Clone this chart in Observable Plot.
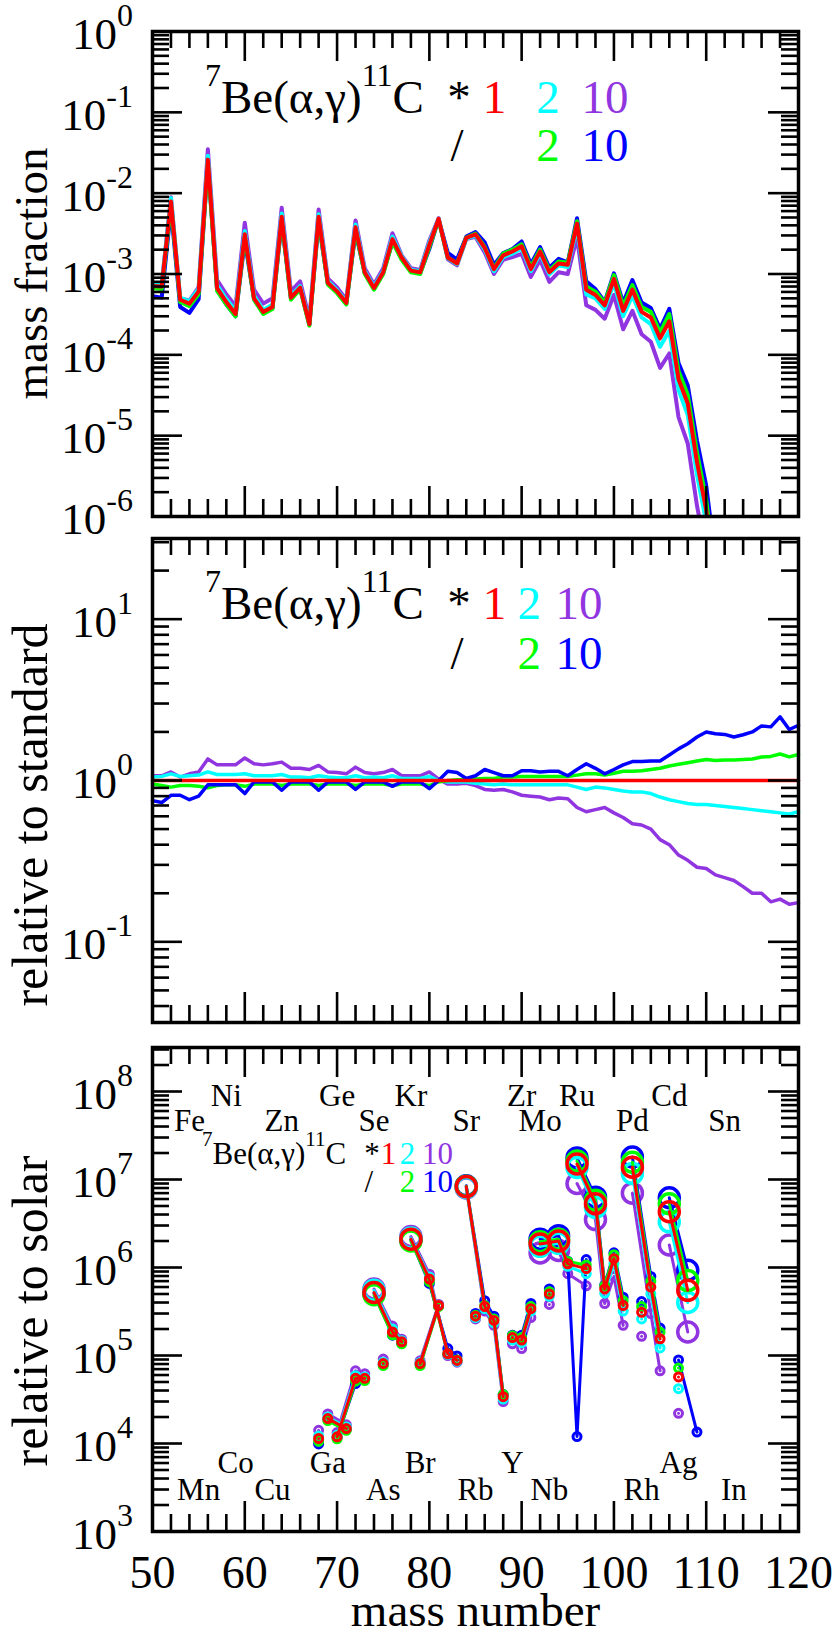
<!DOCTYPE html>
<html><head><meta charset="utf-8">
<script src="https://cdn.jsdelivr.net/npm/d3@7"></script>
<script src="https://cdn.jsdelivr.net/npm/@observablehq/plot@0.6"></script>
<style>
html,body{margin:0;padding:0;background:#fff;overflow:hidden;}
#wrap{position:relative;width:833px;height:1639px;}
#wrap svg{position:absolute;left:0;}
#wrap svg text{font-family:"Liberation Serif" !important;}
</style></head><body><div id="wrap"></div>
<script>
// ---------------- DATA ----------------
// Panel 1: mass fraction vs mass number (A = 50..111)
const massNumbers = [50,51,52,53,54,55,56,57,58,59,60,61,62,63,64,65,66,67,68,69,70,71,72,73,74,75,76,77,78,79,80,81,82,83,84,85,86,87,88,89,90,91,92,93,94,95,96,97,98,99,100,101,102,103,104,105,106,107,108,109,110,111];
const mfStandard = [7.1e-4,7.0e-4,7.9e-3,4.8e-4,4.3e-4,6.1e-4,2.6e-2,6.7e-4,4.5e-4,3.2e-4, 3.1e-3,5.0e-4,3.4e-4,3.9e-4,5.1e-3,5.1e-4,6.8e-4,2.4e-4,5.1e-3,7.8e-4, 6.1e-4,4.4e-4,3.8e-3,1.05e-3,6.7e-4,1.05e-3,2.7e-3,1.6e-3,1.1e-3,1.05e-3, 2.3e-3,4.8e-3,1.6e-3,1.35e-3,2.8e-3,3.1e-3,2.1e-3,1.15e-3,1.7e-3,1.9e-3, 2.2e-3,1.15e-3,1.9e-3,1.05e-3,1.35e-3,1.3e-3,4.2e-3,6.4e-4,5.5e-4,4.1e-4, 8.7e-4,3.5e-4,6.4e-4,3.4e-4,2.9e-4,1.6e-4,2.6e-4,5.0e-5,2.5e-5,4.7e-6, 1.2e-6,1.5e-7];
const mfTimes2 = [7.5e-4,7.4e-4,8.7e-3,5.1e-4,4.6e-4,6.6e-4,2.9e-2,7.3e-4,4.9e-4,3.5e-4, 3.4e-3,5.4e-4,3.6e-4,4.2e-4,5.6e-3,5.4e-4,7.1e-4,2.5e-4,5.5e-3,8.2e-4, 6.3e-4,4.6e-4,4.1e-3,1.09e-3,7.0e-4,1.09e-3,2.9e-3,1.65e-3,1.13e-3,1.08e-3, 2.45e-3,4.8e-3,1.57e-3,1.32e-3,2.74e-3,2.98e-3,2.0e-3,1.08e-3,1.62e-3,1.79e-3, 2.07e-3,1.08e-3,1.79e-3,9.9e-4,1.27e-3,1.22e-3,3.8e-3,5.6e-4,5.0e-4,3.7e-4, 7.7e-4,3.0e-4,5.4e-4,2.9e-4,2.4e-4,1.26e-4,1.98e-4,3.7e-5,1.8e-5,3.3e-6, 8.5e-7,1.05e-7];
const mfTimes10 = [7.6e-4,7.5e-4,8.9e-3,5.0e-4,4.7e-4,6.9e-4,3.5e-2,8.4e-4,5.6e-4,4.0e-4, 4.3e-3,6.4e-4,4.3e-4,5.0e-4,6.6e-3,6.1e-4,8.1e-4,2.8e-4,6.3e-3,8.8e-4, 6.8e-4,4.8e-4,4.6e-3,1.18e-3,7.4e-4,1.18e-3,3.2e-3,1.7e-3,1.18e-3,1.12e-3, 2.6e-3,4.9e-3,1.52e-3,1.28e-3,2.7e-3,2.88e-3,1.85e-3,1.0e-3,1.5e-3,1.62e-3, 1.78e-3,9.2e-4,1.5e-3,8.0e-4,1.05e-3,1.0e-3,2.86e-3,4.1e-4,3.6e-4,2.8e-4, 5.5e-4,2.07e-4,3.5e-4,1.8e-4,1.45e-4,6.9e-5,1.04e-4,1.7e-5,8.0e-6,1.36e-6, 3.4e-7,3.9e-8];
const mfDiv2 = [6.7e-4,6.5e-4,7.2e-3,4.5e-4,4.0e-4,5.6e-4,2.3e-2,6.2e-4,4.2e-4,3.0e-4, 2.9e-3,4.8e-4,3.2e-4,3.7e-4,4.7e-3,4.8e-4,6.5e-4,2.3e-4,4.7e-3,7.4e-4, 5.8e-4,4.2e-4,3.5e-3,1.0e-3,6.4e-4,1.0e-3,2.5e-3,1.5e-3,1.05e-3,1.0e-3, 2.15e-3,4.7e-3,1.6e-3,1.36e-3,2.83e-3,3.16e-3,2.16e-3,1.18e-3,1.79e-3,2.0e-3, 2.33e-3,1.22e-3,2.01e-3,1.11e-3,1.43e-3,1.38e-3,4.5e-3,7.0e-4,6.05e-4,4.4e-4, 9.7e-4,4.0e-4,7.3e-4,3.9e-4,3.4e-4,1.9e-4,3.2e-4,6.3e-5,3.2e-5,6.2e-6, 1.6e-6,2.0e-7];
const mfDiv10 = [5.3e-4,5.1e-4,6.4e-3,3.9e-4,3.3e-4,4.9e-4,2.4e-2,6.3e-4,4.2e-4,3.0e-4, 2.6e-3,4.9e-4,3.3e-4,3.8e-4,4.4e-3,5.0e-4,6.7e-4,2.35e-4,4.4e-3,7.6e-4, 6.0e-4,4.3e-4,3.3e-3,1.03e-3,6.6e-4,1.03e-3,2.5e-3,1.57e-3,1.08e-3,1.03e-3, 2.05e-3,4.8e-3,1.82e-3,1.51e-3,2.9e-3,3.3e-3,2.46e-3,1.29e-3,1.82e-3,2.03e-3, 2.53e-3,1.32e-3,2.15e-3,1.2e-3,1.54e-3,1.39e-3,4.9e-3,8.1e-4,6.5e-4,4.5e-4, 1.02e-3,4.4e-4,8.4e-4,4.45e-4,3.8e-4,2.1e-4,3.7e-4,7.9e-5,4.2e-5,8.7e-6, 2.4e-6,2.9e-7];

// Panel 2: ratio to standard (A = 50..120)
const ratioMassNumbers = [50,51,52,53,54,55,56,57,58,59,60,61,62,63,64,65,66,67,68,69,70,71,72,73,74,75,76,77,78,79,80,81,82,83,84,85,86,87,88,89,90,91,92,93,94,95,96,97,98,99,100,101,102,103,104,105,106,107,108,109,110,111,112,113,114,115,116,117,118,119,120];
const ratioStandard = [1,1,1,1,1,1,1,1,1,1, 1,1,1,1,1,1,1,1,1,1, 1,1,1,1,1,1,1,1,1,1, 1,1,1,1,1,1,1,1,1,1, 1,1,1,1,1,1,1,1,1,1, 1,1,1,1,1,1,1,1,1,1, 1,1,1,1,1,1,1,1,1,1, 1];
const ratioTimes2 = [1.05,1.06,1.10,1.06,1.07,1.08,1.13,1.09,1.09,1.09, 1.10,1.07,1.07,1.07,1.09,1.05,1.05,1.04,1.07,1.05, 1.04,1.04,1.07,1.04,1.05,1.04,1.07,1.03,1.03,1.03, 1.06,1.00,0.98,0.98,0.98,0.96,0.95,0.94,0.95,0.94, 0.94,0.94,0.94,0.94,0.94,0.94,0.91,0.88,0.91,0.90, 0.88,0.86,0.85,0.85,0.83,0.79,0.76,0.74,0.72,0.71, 0.71,0.70,0.69,0.68,0.67,0.66,0.65,0.64,0.63,0.62, 0.64];
const ratioTimes10 = [1.07,1.07,1.13,1.05,1.10,1.13,1.36,1.25,1.25,1.25, 1.38,1.27,1.25,1.27,1.30,1.19,1.19,1.17,1.24,1.13, 1.12,1.10,1.21,1.12,1.10,1.12,1.17,1.07,1.07,1.07, 1.13,1.02,0.95,0.95,0.96,0.93,0.88,0.87,0.88,0.85, 0.81,0.80,0.79,0.76,0.78,0.77,0.68,0.64,0.66,0.68, 0.63,0.59,0.54,0.53,0.50,0.43,0.40,0.345,0.32,0.29, 0.285,0.26,0.25,0.24,0.22,0.20,0.20,0.177,0.184,0.171, 0.175];
const ratioDiv2 = [0.95,0.93,0.91,0.93,0.93,0.92,0.90,0.93,0.94,0.94, 0.92,0.95,0.95,0.95,0.93,0.95,0.95,0.95,0.93,0.95, 0.95,0.95,0.93,0.95,0.95,0.95,0.93,0.95,0.95,0.95, 0.93,0.98,1.00,1.01,1.01,1.02,1.03,1.03,1.05,1.05, 1.06,1.06,1.06,1.06,1.06,1.06,1.08,1.10,1.10,1.08, 1.11,1.14,1.14,1.15,1.17,1.19,1.23,1.26,1.29,1.32, 1.35,1.33,1.34,1.34,1.35,1.36,1.40,1.41,1.46,1.40, 1.45];
const ratioDiv10 = [0.75,0.73,0.81,0.81,0.76,0.80,0.94,0.94,0.94,0.94, 0.83,0.98,0.98,0.98,0.87,0.98,0.98,0.98,0.87,0.98, 0.98,0.98,0.88,0.98,0.98,0.98,0.92,0.98,0.98,0.98, 0.89,1.00,1.14,1.12,1.03,1.07,1.17,1.12,1.07,1.07, 1.15,1.15,1.13,1.14,1.14,1.07,1.17,1.27,1.19,1.10, 1.17,1.25,1.31,1.31,1.32,1.32,1.44,1.57,1.69,1.86, 2.0,1.95,1.93,1.86,1.92,2.0,2.18,2.15,2.48,2.07, 2.2];

// Panel 3: production relative to solar, per stable isotope
const isoElement = ["Zn","Ga","Ge","Ga","Ge","Ge","Se","As","Se","Se","Kr","Br","Kr","Br","Kr","Kr","Sr","Rb","Sr","Sr","Sr","Y","Zr","Zr","Mo","Nb","Mo","Mo","Mo","Ru","Mo","Ru","Ru","Ru","Ru","Pd","Rh","Pd","Pd","Cd","Ag","Cd","Ag"];
const isoA = [68,69,70,71,72,73,74,75,76,77,78,79,80,81,82,83,84,85,86,87,88,89,90,91,92,93,94,95,96,96,97,98,99,100,101,102,103,104,105,106,107,108,109];
const isoPNucleus = [false,false,false,false,false,false,true,false,false,false,true,false,false,false,false,false,true,false,false,false,false,false,false,false,true,false,true,false,false,true,false,true,false,false,false,true,false,false,false,true,false,true,false];
const solarStandard = [1.14e4,1.92e4,1.19e4,1.48e4,5.5e4,5.5e4,5.2e5,8.1e4,1.85e5,1.43e5,2.1e6,8.1e4,7.4e5,3.7e5,1.05e5,8.8e4,8.3e6,2.8e5,3.6e5,2.5e5,3.4e4,1.6e5,1.5e5,3.4e5,1.85e6,5.0e5,2.0e6,1.1e6,null,1.5e7,9.7e5,5.3e6,5.7e5,1.26e6,3.7e5,1.38e7,3.1e5,6.0e5,1.55e5,4.3e6,5.7e4,5.5e5,null];
const solarTimes2 = [1.22e4,2.0e4,1.24e4,1.54e4,5.9e4,5.7e4,5.5e5,8.4e4,2.0e5,1.47e5,2.16e6,8.3e4,7.8e5,3.7e5,1.03e5,8.6e4,8.1e6,2.7e5,3.4e5,2.35e5,3.2e4,1.5e5,1.4e5,3.2e5,1.74e6,4.7e5,1.88e6,1.03e6,null,1.37e7,8.5e5,4.8e6,5.1e5,1.11e6,3.2e5,1.17e7,2.6e5,5.0e5,1.22e5,3.3e6,4.2e4,4.0e5,null];
const solarTimes10 = [1.41e4,2.17e4,1.33e4,1.63e4,6.7e4,6.2e4,5.7e5,9.1e4,2.16e5,1.53e5,2.25e6,8.7e4,8.4e5,3.8e5,1.0e5,8.4e4,8.0e6,2.6e5,3.2e5,2.2e5,3.0e4,1.36e5,1.2e5,2.7e5,1.46e6,3.8e5,1.56e6,8.5e5,null,9.0e6,6.2e5,3.5e6,3.9e5,7.9e5,2.2e5,7.0e6,1.65e5,3.0e5,6.7e4,1.8e6,2.2e4,1.85e5,null];
const solarDiv2 = [1.06e4,1.82e4,1.13e4,1.41e4,5.1e4,5.2e4,4.9e5,7.7e4,1.72e5,1.36e5,2.0e6,7.7e4,6.9e5,3.6e5,1.05e5,8.9e4,8.4e6,2.86e5,3.7e5,2.6e5,3.6e4,1.68e5,1.6e5,3.6e5,1.96e6,5.3e5,2.1e6,1.17e6,null,1.62e7,1.07e6,5.8e6,6.2e5,1.4e6,4.2e5,1.57e7,3.6e5,7.0e5,1.84e5,5.3e6,7.2e4,7.1e5,null];
const solarDiv10 = [9.9e3,1.88e4,1.17e4,1.45e4,4.8e4,5.4e4,5.1e5,7.9e4,1.7e5,1.4e5,2.06e6,7.9e4,6.6e5,3.7e5,1.2e5,9.9e4,8.5e6,3.0e5,4.2e5,2.8e5,3.6e4,1.7e5,1.7e5,3.9e5,2.1e6,5.7e5,2.3e6,1.18e6,1.2e4,1.76e7,1.23e6,6.3e6,6.3e5,1.47e6,4.6e5,1.8e7,4.1e5,7.9e5,2.05e5,6.2e6,8.9e4,9.3e5,1.35e4];

// Element name labels in panel 3 (placed at lightest stable isotope)
const elemUpper1 = ["Ni","Ge","Kr","Zr","Ru","Cd"];
const elemUpper1A = [58,70,78,90,96,106];
const elemUpper2 = ["Fe","Zn","Se","Sr","Mo","Pd","Sn"];
const elemUpper2A = [54,64,74,84,92,102,112];
const elemLower1 = ["Co","Ga","Br","Y","Ag"];
const elemLower1A = [59,69,79,89,107];
const elemLower2 = ["Mn","Cu","As","Rb","Nb","Rh","In"];
const elemLower2A = [55,63,75,85,93,103,113];

// Tick labels
const xTickLabels = [50,60,70,80,90,100,110,120];
const p1Exponents = [0,-1,-2,-3,-4,-5,-6];
const p2Exponents = [1,0,-1];
const p3Exponents = [8,7,6,5,4,3];

// Legend labels
const legendFactors = ["1","2","10"];
const legendDivisors = ["2","10"];

// ---------------- STYLE ----------------
const SERIF = "Liberation Serif";
const RED = "#ff0000", CYAN = "#00ffff", PURPLE = "#9035e0", GREEN = "#00ff00", BLUE = "#0000ff";
const W = 833, ML = 152, MR = 35;
const PW = W - ML - MR;
const MAJ = 30, MIN = 17, TW = 2.6;

function tickMarks(plotH, yDomain, yExps) {
  const xMajor = xTickLabels;
  const xMinor = d3.range(50, 121, 2).filter(v => v % 10 !== 0);
  const yMajor = yExps.map(e => Math.pow(10, e)).filter(v => v >= yDomain[0] * 0.999 && v <= yDomain[1] * 1.001);
  const yMinor = [];
  const lo = Math.floor(Math.log10(yDomain[0])), hi = Math.ceil(Math.log10(yDomain[1]));
  for (let k = lo; k <= hi; k++) for (let m = 2; m <= 9; m++) {
    const v = m * Math.pow(10, k);
    if (v > yDomain[0] && v < yDomain[1]) yMinor.push(v);
  }
  const o = {stroke: "black", strokeWidth: TW};
  return [
    Plot.tickX(xMajor, {x: d => d, insetBottom: plotH - MAJ, ...o}),
    Plot.tickX(xMajor, {x: d => d, insetTop: plotH - MAJ, ...o}),
    Plot.tickX(xMinor, {x: d => d, insetBottom: plotH - MIN, ...o}),
    Plot.tickX(xMinor, {x: d => d, insetTop: plotH - MIN, ...o}),
    Plot.tickY(yMajor, {y: d => d, insetRight: PW - MAJ, ...o}),
    Plot.tickY(yMajor, {y: d => d, insetLeft: PW - MAJ, ...o}),
    Plot.tickY(yMinor, {y: d => d, insetRight: PW - MIN, ...o}),
    Plot.tickY(yMinor, {y: d => d, insetLeft: PW - MIN, ...o})
  ];
}

function txt(g, x, y, size, fill, anchor) {
  return g.append("text").attr("x", x).attr("y", y).attr("font-family", SERIF)
    .attr("font-size", size).attr("fill", fill).attr("text-anchor", anchor);
}

function yLabelMark(exps, title, titleShift, titleSize) {
  return (index, scales, values, dims) => {
    const g = d3.create("svg:g");
    for (const e of exps) {
      const y = scales.y(Math.pow(10, e));
      const t = txt(g, dims.marginLeft - 19, y + 18, 45, "black", "end");
      t.append("tspan").text("10");
      t.append("tspan").attr("dy", -23).attr("font-size", 32).text(String(e));
    }
    const yc = (dims.marginTop + dims.height - dims.marginBottom) / 2 + titleShift;
    txt(g, 0, 0, titleSize, "black", "middle").attr("transform", `translate(47,${yc}) rotate(-90)`).text(title);
    return g.node();
  };
}

function legendMark(L) {
  return (index, scales) => {
    const g = d3.create("svg:g");
    const y1 = scales.y(L.y1), y2 = scales.y(L.y2);
    const t = txt(g, scales.x(L.x0), y1, L.size, "black", "start");
    t.append("tspan").attr("font-size", L.sup).attr("dy", -L.shift).text("7");
    t.append("tspan").attr("dy", L.shift).text("Be(α,γ)");
    t.append("tspan").attr("font-size", L.sup).attr("dy", -L.shift).text("11");
    t.append("tspan").attr("dy", L.shift).text("C");
    txt(g, scales.x(L.xStar), y1, L.size, "black", "middle").text("*");
    txt(g, scales.x(L.xSlash), y2, L.size, "black", "middle").text("/");
    const c1 = [RED, CYAN, PURPLE];
    legendFactors.forEach((s, i) => txt(g, scales.x(L.cols1[i]), y1, L.size, c1[i], "middle").text(s));
    const c2 = [GREEN, BLUE];
    legendDivisors.forEach((s, i) => txt(g, scales.x(L.cols2[i]), y2, L.size, c2[i], "middle").text(s));
    return g.node();
  };
}

const wrap = document.getElementById("wrap");
function place(svg, top) { svg.style.top = top + "px"; svg.style.left = "0px"; wrap.appendChild(svg); }

// ---------------- PANEL 1 ----------------
{
  const H = 530, MT = 31, MB = 14, dom = [1e-6, 1];
  const rows = arr => arr.map((v, i) => ({A: massNumbers[i], v}));
  const lw = 4;
  const svg = Plot.plot({
    width: W, height: H, marginLeft: ML, marginRight: MR, marginTop: MT, marginBottom: MB,
    x: {domain: [50, 120], axis: null},
    y: {type: "log", domain: dom, axis: null},
    style: {background: "transparent", overflow: "visible", fontFamily: SERIF},
    marks: [
      Plot.line(rows(mfDiv10), {x: "A", y: "v", stroke: BLUE, strokeWidth: lw, clip: true}),
      Plot.line(rows(mfTimes10), {x: "A", y: "v", stroke: PURPLE, strokeWidth: lw, clip: true}),
      Plot.line(rows(mfTimes2), {x: "A", y: "v", stroke: CYAN, strokeWidth: lw, clip: true}),
      Plot.line(rows(mfDiv2), {x: "A", y: "v", stroke: GREEN, strokeWidth: lw, clip: true}),
      Plot.line(rows(mfStandard), {x: "A", y: "v", stroke: RED, strokeWidth: lw, clip: true}),
      ...tickMarks(H - MT - MB, dom, p1Exponents),
      Plot.frame({stroke: "black", strokeWidth: 3.5}),
      yLabelMark(p1Exponents, "mass fraction", 0, 47),
      legendMark({x0: 55.74, y1: 0.0967, y2: 0.0246, size: 47, sup: 32, shift: 27,
        xStar: 83.27, xSlash: 83.05, cols1: [87.11, 92.91, 99.09], cols2: [92.91, 99.09]})
    ]
  });
  place(svg, 0);
}

// ---------------- PANEL 2 ----------------
{
  const H = 505, MT = 11, MB = 10, dom = [Math.pow(10, -1.5), Math.pow(10, 1.5)];
  const rows = arr => arr.map((v, i) => ({A: ratioMassNumbers[i], v}));
  const lw = 3.5;
  const svg = Plot.plot({
    width: W, height: H, marginLeft: ML, marginRight: MR, marginTop: MT, marginBottom: MB,
    x: {domain: [50, 120], axis: null},
    y: {type: "log", domain: dom, axis: null},
    style: {background: "transparent", overflow: "visible", fontFamily: SERIF},
    marks: [
      Plot.line(rows(ratioTimes10), {x: "A", y: "v", stroke: PURPLE, strokeWidth: lw}),
      Plot.line(rows(ratioTimes2), {x: "A", y: "v", stroke: CYAN, strokeWidth: lw}),
      Plot.line(rows(ratioDiv2), {x: "A", y: "v", stroke: GREEN, strokeWidth: lw}),
      Plot.line(rows(ratioDiv10), {x: "A", y: "v", stroke: BLUE, strokeWidth: lw}),
      Plot.line(rows(ratioStandard), {x: "A", y: "v", stroke: RED, strokeWidth: lw}),
      ...tickMarks(H - MT - MB, dom, p2Exponents),
      Plot.frame({stroke: "black", strokeWidth: 3.5}),
      yLabelMark(p2Exponents, "relative to standard", 35, 50),
      legendMark({x0: 55.74, y1: 9.9, y2: 4.9, size: 47, sup: 32, shift: 27,
        xStar: 83.27, xSlash: 83.05, cols1: [87.11, 90.88, 96.27], cols2: [90.88, 96.27]})
    ]
  });
  place(svg, 527);
}

// ---------------- PANEL 3 ----------------
{
  const H = 607, MT = 15, MB = 108, dom = [1e3, Math.pow(10, 8.5)];
  const rows = arr => arr.map((v, i) => ({A: isoA[i], v, el: isoElement[i], p: isoPNucleus[i]})).filter(d => d.v != null);
  const series = [[solarTimes10, PURPLE], [solarDiv10, BLUE], [solarTimes2, CYAN], [solarDiv2, GREEN], [solarStandard, RED]];
  const dataMarks = series.flatMap(([arr, c]) => {
    const r = rows(arr);
    return [
      Plot.line(r, {x: "A", y: "v", z: "el", stroke: c, strokeWidth: 3}),
      Plot.dot(r, {filter: d => !d.p, x: "A", y: "v", r: 4, stroke: c, strokeWidth: 3, fill: "none"}),
      Plot.dot(r, {filter: d => d.p, x: "A", y: "v", r: 10, stroke: c, strokeWidth: 3.5, fill: "none"})
    ];
  });
  const lab = (names, As, yv) => Plot.text(names.map((n, i) => ({n, A: As[i]})),
    {x: "A", y: () => yv, text: "n", fontSize: 31, fontFamily: SERIF, fill: "black"});
  const svg = Plot.plot({
    width: W, height: H, marginLeft: ML, marginRight: MR, marginTop: MT, marginBottom: MB,
    x: {domain: [50, 120], axis: null},
    y: {type: "log", domain: dom, axis: null},
    style: {background: "transparent", overflow: "visible", fontFamily: SERIF},
    marks: [
      lab(elemUpper1, elemUpper1A, 8.9e7),
      lab(elemUpper2, elemUpper2A, 4.6e7),
      lab(elemLower1, elemLower1A, 5.97e3),
      lab(elemLower2, elemLower2A, 2.95e3),
      ...dataMarks,
      ...tickMarks(H - MT - MB, dom, p3Exponents),
      Plot.frame({stroke: "black", strokeWidth: 3.5}),
      yLabelMark(p3Exponents, "relative to solar", 22, 50),
      legendMark({x0: 55.42, y1: 1.5e7, y2: 7.2e6, size: 31, sup: 21, shift: 18,
        xStar: 73.84, xSlash: 73.5, cols1: [75.63, 77.69, 80.94], cols2: [77.69, 80.94]}),
      Plot.text(xTickLabels, {x: d => d, frameAnchor: "bottom", dy: 56, lineAnchor: "bottom",
        fontSize: 46, fontFamily: SERIF, fill: "black"}),
      Plot.text(["mass number"], {frameAnchor: "bottom", dy: 94, lineAnchor: "bottom",
        fontSize: 47, fontFamily: SERIF, fill: "black"})
    ]
  });
  place(svg, 1032);
}
</script>
</body></html>
